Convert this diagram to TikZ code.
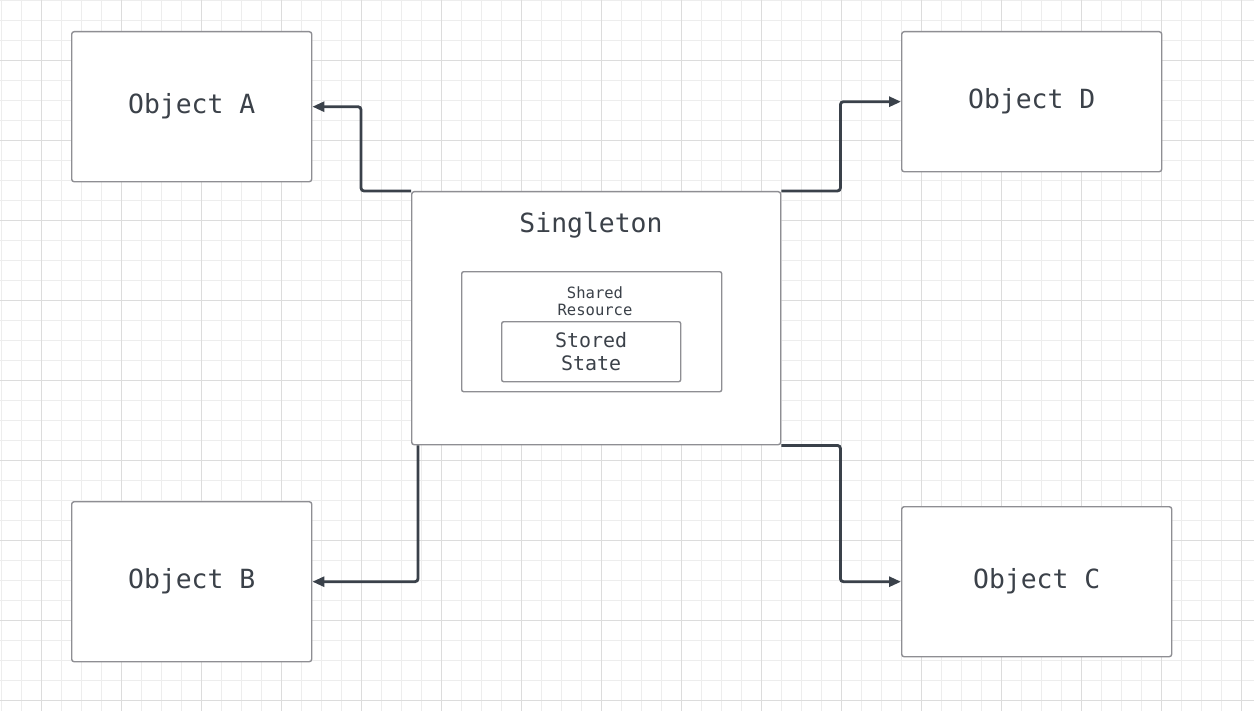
\documentclass[tikz,border=0pt]{standalone}
\usepackage{fontspec}
\newfontfamily\diagfont{DejaVu Sans Mono}
\usetikzlibrary{arrows.meta}
\definecolor{gridminor}{HTML}{EDEDED}
\definecolor{gridmajor}{HTML}{DCDCDC}
\definecolor{boxline}{HTML}{8E8E93}
\definecolor{inkline}{HTML}{3A414A}
\definecolor{txt}{HTML}{3B4149}
\tikzset{
  objbox/.style={draw=boxline, line width=1.4bp, rounded corners=2.5bp, fill=white,
    anchor=north west, inner sep=0pt, text=txt,
    font=\diagfont\fontsize{26.5}{30}\selectfont},
  innerbox/.style={draw=boxline, line width=1.4bp, rounded corners=2bp, fill=white,
    anchor=north west, inner sep=0pt},
  conn/.style={draw=inkline, line width=2.8bp, rounded corners=3bp,
    -{Triangle[length=12bp,width=10bp]}},
  lbl/.style={text=txt, inner sep=0pt, align=center},
}
\begin{document}
\begin{tikzpicture}[x=1bp,y=-1bp]
\useasboundingbox (0,0) rectangle (1254,711);
\fill[white] (0,0) rectangle (1254,711);
% grid
\foreach \k in {0,...,62}{
  \draw[gridminor, line width=1bp] ({1.7+20*\k},0) -- ({1.7+20*\k},711);
}
\foreach \k in {0,...,35}{
  \draw[gridminor, line width=1bp] (0,{0.7+20*\k}) -- (1254,{0.7+20*\k});
}
\foreach \k in {0,...,15}{
  \draw[gridmajor, line width=1bp] ({41.7+80*\k},0) -- ({41.7+80*\k},711);
}
\foreach \k in {0,...,8}{
  \draw[gridmajor, line width=1bp] (0,{60.7+80*\k}) -- (1254,{60.7+80*\k});
}
% objects
\node[objbox, minimum width=240bp, minimum height=150bp] (A) at (71,31) {Object A};
\node[objbox, minimum width=240bp, minimum height=160bp] (B) at (71,501) {Object B};
\node[objbox, minimum width=270bp, minimum height=150bp] (C) at (901,506) {Object C};
\node[objbox, minimum width=260bp, minimum height=140bp] (D) at (901,31) {Object D};
% singleton
\node[objbox, minimum width=369bp, minimum height=253bp] (S) at (411,191) {};
\node[lbl, font=\diagfont\fontsize{26.5}{30}\selectfont] (Stitle) at (591,225) {Singleton};
\node[innerbox, minimum width=260bp, minimum height=120bp] (R) at (461,271) {};
\node[lbl, font=\diagfont\fontsize{15.6}{17.6}\selectfont] (Rtitle) at (595,301) {Shared\\Resource};
\node[innerbox, minimum width=179bp, minimum height=60bp, lbl,
  font=\diagfont\fontsize{20}{22.5}\selectfont] (T) at (501,321) {Stored\\State};
% connectors
\draw[conn] (S.north west) -- ++(-50,0) |- (A.east);
\draw[conn] ([xshift=7bp]S.south west) |- (B.east);
\draw[conn] (S.south east) -- ++(59,0) |- (C.west);
\draw[conn] (S.north east) -- ++(59,0) |- (D.west);
\end{tikzpicture}
\end{document}
